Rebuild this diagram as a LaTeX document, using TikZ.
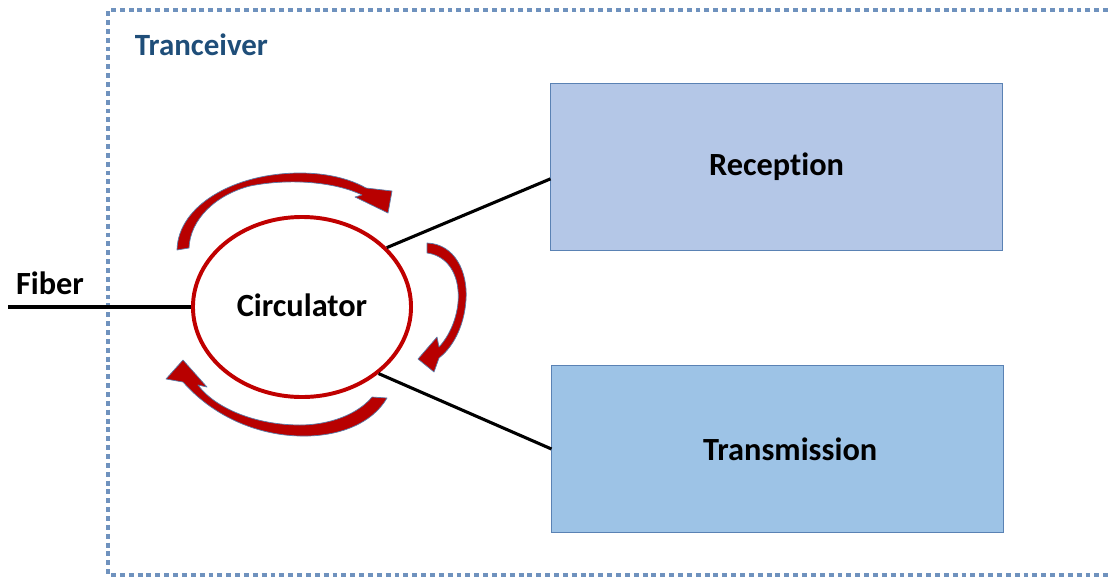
\documentclass[tikz,border=0pt]{standalone}
\usepackage{fontspec}
\setmainfont{Carlito}[Ligatures=NoCommon]
\usepackage{tikz}
\usetikzlibrary{shapes.geometric}
\definecolor{circred}{HTML}{C00000}
\definecolor{arrred}{HTML}{B80000}
\definecolor{arredge}{HTML}{5A7CA8}
\definecolor{recfill}{HTML}{B4C7E7}
\definecolor{trafill}{HTML}{9DC3E6}
\definecolor{boxedge}{HTML}{5A82B4}
\definecolor{dotblue}{HTML}{6F92BE}
\definecolor{titleblue}{HTML}{1F4E79}
\tikzset{
  blocklabel/.style={font=\fontsize{23}{27}\selectfont\bfseries},
  block/.style={draw=boxedge,line width=0.7pt,minimum width=11.275cm,minimum height=4.15cm,inner sep=0pt,blocklabel},
  crescent/.style={fill=arrred,draw=arredge,line width=0.5pt,line join=round},
  wire/.style={line width=2.2pt,black}
}

\begin{document}
\begin{tikzpicture}[x=0.025cm,y=-0.025cm]
    \useasboundingbox (0,0) rectangle (1108,578);
    %dotted frame, open on the right
    \draw [dotblue,line width=2.2pt,dash pattern=on 3.5pt off 2.8pt] (1108,10) -- (108,10) -- (108,575) -- (1108,575);
    \node [anchor=west,text=titleblue,font=\fontsize{22}{26}\selectfont\bfseries] (title) at (130,45) {Tranceiver};
    %the two blocks
    \node [block,fill=recfill] (rec) at (776.5,167) {Reception};
    \node [block,fill=trafill] (tra) at (777.5,449) {\hspace*{18pt}Transmission};
    %circulator
    \node [ellipse,draw=circred,line width=2.8pt,fill=white,minimum width=5.45cm,minimum height=4.5cm,inner sep=0pt,blocklabel] (circ) at (302,307) {\raisebox{2.8pt}{Circulator}};
    \coordinate (fibend) at (8,307);
    \node [blocklabel] (fib) at (50,283) {Fiber};
    \draw [wire] (fibend) -- (circ.west);
    \draw [wire] (circ.35) -- (rec.183);
    \draw [wire] (circ.-41) -- (tra.west);
    %curved arrows round the circulator
    \draw [crescent] (177,250) .. controls (178,205) and (235,173) .. (300,173) .. controls (330,173) and (352,180) .. (366,188) -- (392,191) -- (388,213) -- (355,197) -- (362,195) .. controls (335,182) and (290,178) .. (250,186) .. controls (215,195) and (190,220) .. (189,248) -- cycle;
    \draw [crescent] (427,243) .. controls (455,244) and (468,272) .. (466,300) .. controls (464,328) and (452,348) .. (439,358) -- (434,372) -- (418,359) -- (437,337) -- (439,347) .. controls (452,333) and (460,310) .. (458,290) .. controls (456,268) and (443,255) .. (427,253) -- cycle;
    \draw [crescent] (372,397) -- (387,398) .. controls (372,424) and (338,437) .. (300,436) .. controls (255,435) and (212,415) .. (183,382) -- (166,379) -- (183,360) -- (207,387) -- (198,385) .. controls (215,408) and (255,425) .. (300,425) .. controls (330,425) and (358,414) .. (372,397) -- cycle;
\end{tikzpicture}
\end{document}
